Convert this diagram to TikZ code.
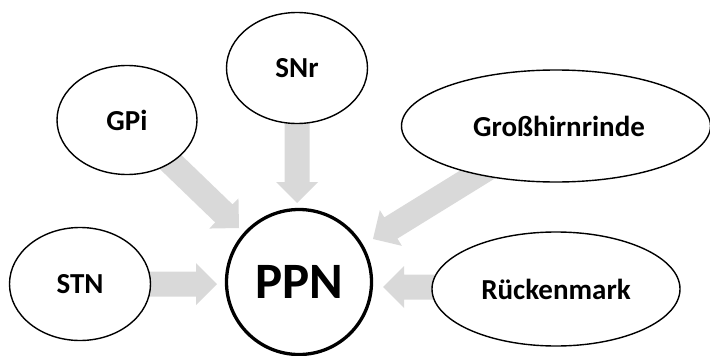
\documentclass[tikz,border=0pt]{standalone}
\usepackage{fontspec}
\setmainfont{Carlito}
\usetikzlibrary{shapes.geometric,calc,backgrounds}
\definecolor{arrowgray}{RGB}{217,217,217}
\tikzset{
  region/.style={ellipse, draw=black, line width=1.4pt, fill=white, inner sep=0pt,
                 font=\bfseries\fontsize{29}{32}\selectfont},
  hub/.style={circle, draw=black, line width=3.3pt, fill=white, inner sep=0pt,
              minimum size=145pt, font=\bfseries\fontsize{51}{56}\selectfont},
  flow/.style={fill=arrowgray, draw=none}
}
% wide block arrow from #1 to the tip #2
\newcommand{\blockarrow}[2]{%
  \coordinate (ah) at ($(#2)!21pt!(#1)$);
  \fill[flow] ($(#1)!12.5pt!90:(#2)$) -- ($(ah)!12.5pt!90:(#2)$)
    -- ($(ah)!21pt!90:(#2)$) -- (#2) -- ($(ah)!21pt!-90:(#2)$)
    -- ($(ah)!12.5pt!-90:(#2)$) -- ($(#1)!12.5pt!-90:(#2)$) -- cycle;
}
\begin{document}
\begin{tikzpicture}[x=1pt,y=-1pt]
  \useasboundingbox (0,0) rectangle (710,356);

  \node[region, minimum width=140pt, minimum height=109pt] (gpi) at (127,120) {GPi};
  \node[region, minimum width=141pt, minimum height=111pt] (snr) at (297,68) {SNr};
  \node[region, minimum width=141pt, minimum height=113pt] (stn) at (80,284) {STN};
  \node[region, minimum width=309pt, minimum height=112pt] (gross) at (556,126) {\hspace*{6pt}Großhirnrinde};
  \node[region, minimum width=248pt, minimum height=114pt] (rueck) at (556,289) {Rückenmark};
  \node[hub] (ppn) at (299,282) {PPN};

  \coordinate (tipG) at (239,228);
  \coordinate (tipS) at (297,203);
  \coordinate (tipT) at (217,284);
  \coordinate (tipC) at (373,239);
  \coordinate (tipR) at (383,287);
  \coordinate (srcR) at (rueck.center |- tipR);

  \begin{pgfonlayer}{background}
    \blockarrow{gpi.center}{tipG}
    \blockarrow{snr.center}{tipS}
    \blockarrow{stn.center}{tipT}
    \blockarrow{gross.center}{tipC}
    \blockarrow{srcR}{tipR}
  \end{pgfonlayer}
\end{tikzpicture}
\end{document}
